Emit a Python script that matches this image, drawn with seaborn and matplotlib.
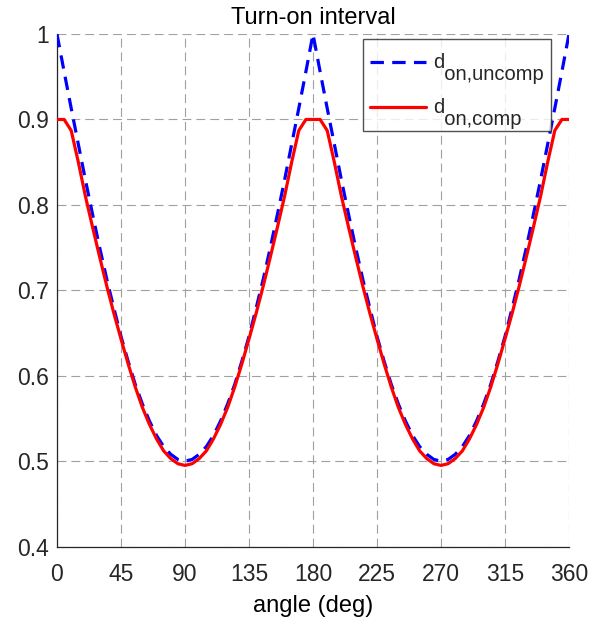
import matplotlib
matplotlib.use("Agg")
import matplotlib.pyplot as plt
import seaborn as sns
import pandas as pd
import numpy as np

angles = list(range(0, 361, 5))
d_uncomp = [1.000, 0.956, 0.913, 0.871, 0.829, 0.789, 0.750, 0.713, 0.679, 0.646, 0.617, 0.590, 0.567, 0.547, 0.530, 0.517, 0.508, 0.502, 0.500,
            0.502, 0.508, 0.517, 0.530, 0.547, 0.567, 0.590, 0.617, 0.646, 0.679, 0.713, 0.750, 0.789, 0.829, 0.871, 0.913, 0.956, 1.000,
            0.956, 0.913, 0.871, 0.829, 0.789, 0.750, 0.713, 0.679, 0.646, 0.617, 0.590, 0.567, 0.547, 0.530, 0.517, 0.508, 0.502, 0.500,
            0.502, 0.508, 0.517, 0.530, 0.547, 0.567, 0.590, 0.617, 0.646, 0.679, 0.713, 0.750, 0.789, 0.829, 0.871, 0.913, 0.956, 1.000]
d_comp = [0.900, 0.900, 0.887, 0.850, 0.810, 0.774, 0.739, 0.705, 0.673, 0.643, 0.614, 0.587, 0.563, 0.543, 0.526, 0.512, 0.503, 0.497, 0.495,
          0.497, 0.503, 0.512, 0.526, 0.543, 0.563, 0.587, 0.614, 0.643, 0.673, 0.705, 0.739, 0.774, 0.810, 0.850, 0.887, 0.900, 0.900,
          0.900, 0.887, 0.850, 0.810, 0.774, 0.739, 0.705, 0.673, 0.643, 0.614, 0.587, 0.563, 0.543, 0.526, 0.512, 0.503, 0.497, 0.495,
          0.497, 0.503, 0.512, 0.526, 0.543, 0.563, 0.587, 0.614, 0.643, 0.673, 0.705, 0.739, 0.774, 0.810, 0.850, 0.887, 0.900, 0.900]
x_ticks = [0, 45, 90, 135, 180, 225, 270, 315, 360]
y_ticks = [0.4, 0.5, 0.6, 0.7, 0.8, 0.9, 1.0]
y_tick_labels = ["0.4", "0.5", "0.6", "0.7", "0.8", "0.9", "1"]
# "d" with a lowered subscript line (MATLAB tex style)
label_uncomp = "d\n  on,uncomp"
label_comp = "d\n  on,comp"

sns.set_style("white")
plt.rcParams["font.family"] = ["Liberation Sans", "DejaVu Sans"]

df = pd.DataFrame({"angle": angles, "uncomp": d_uncomp, "comp": d_comp})

fig = plt.figure(figsize=(6.07, 6.19), dpi=100)
ax = fig.add_axes([0.0939, 0.117, 0.8435, 0.828])

sns.lineplot(data=df, x="angle", y="uncomp", ax=ax, color="#0000ff", lw=2.3,
             linestyle=(0, (4.2, 2.6)), label=label_uncomp, zorder=3)
sns.lineplot(data=df, x="angle", y="comp", ax=ax, color="#ff0000", lw=2.3,
             label=label_comp, zorder=4)

ax.set_xlim(0, 360)
ax.set_ylim(0.4, 1.0)
ax.set_xticks(x_ticks)
ax.set_yticks(y_ticks)
ax.set_yticklabels(y_tick_labels)
ax.tick_params(direction="in", length=4, labelsize=16.5, colors="#262626",
               width=0.8)
ax.tick_params(axis="x", pad=12)
ax.tick_params(axis="y", pad=6)
ax.grid(True, linestyle=(0, (8, 4.5)), color="#a0a0a0", lw=0.8)
ax.set_axisbelow(True)
for s in ["top", "right"]:
    ax.spines[s].set_visible(False)
for s in ["left", "bottom"]:
    ax.spines[s].set_color("#262626")
    ax.spines[s].set_linewidth(0.9)

ax.set_title("Turn-on interval", fontsize=17, pad=7, color="#000000")
ax.set_xlabel("angle (deg)", fontsize=17, labelpad=6, color="#000000")
ax.set_ylabel("")

fs = 14.5
leg = ax.legend(loc="upper right", fontsize=fs, frameon=True, fancybox=False,
                edgecolor="#262626", handlelength=2.75, handletextpad=0.35,
                borderpad=0.37, labelspacing=0.7, borderaxespad=0.0,
                bbox_to_anchor=(0.965, 0.99))
leg.get_frame().set_linewidth(1.0)
for t in leg.get_texts():
    t.set_linespacing(0.55)
    t.set_position((0, -6))
for ln in leg.legend_handles:
    ln.set_ydata(np.asarray(ln.get_ydata()) + 0.8)

fig.savefig("out.png", dpi=100)
